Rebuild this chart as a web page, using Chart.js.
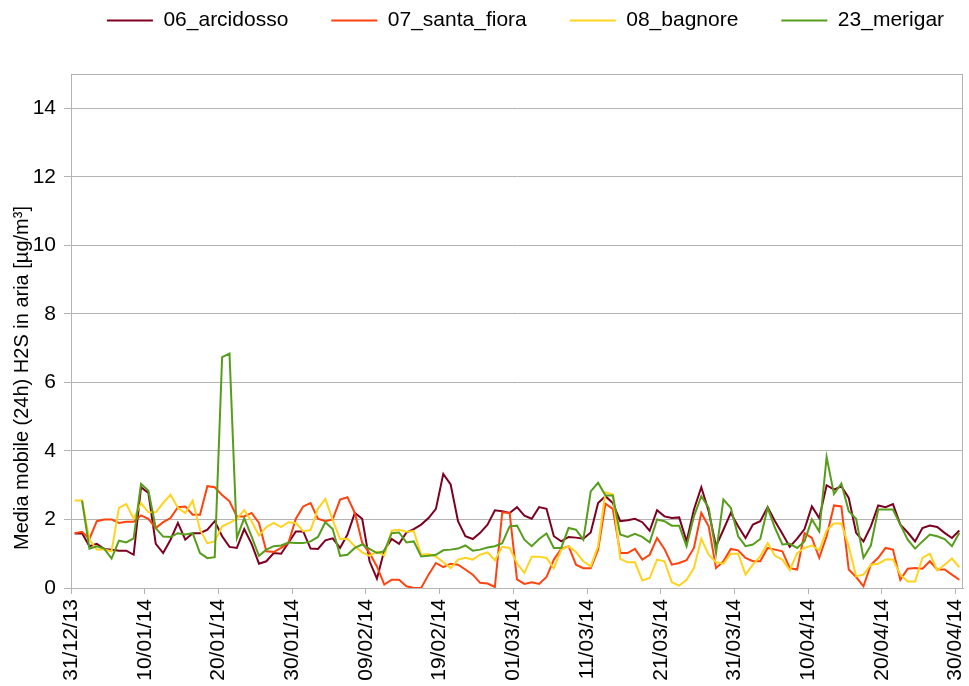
<!DOCTYPE html>
<html>
<head>
<meta charset="utf-8">
<title>Media mobile H2S</title>
<script src="https://cdn.jsdelivr.net/npm/chart.js@4.4.0/dist/chart.umd.min.js"></script>
<style>
  html, body { margin: 0; padding: 0; background: #fff; }
  #wrap { width: 969px; height: 686px; }
</style>
</head>
<body>
<div id="wrap"><canvas id="h2sChart" width="969" height="686"></canvas></div>
<script>
// Daily values from 31/12/13 to 30/04/14 (121 days)

// x tick labels, one every 10 days
const tickLabels = ['31/12/13', '10/01/14', '20/01/14', '30/01/14', '09/02/14', '19/02/14', '01/03/14',
                    '11/03/14', '21/03/14', '31/03/14', '10/04/14', '20/04/14', '30/04/14'];

const yTitleText = 'Media mobile (24h) H2S in aria [µg/m³]';

const arcidosso = [
    1.59, 1.6, 1.22, 1.29, 1.14, 1.12, 1.09, 1.09, 0.97, 2.94,
    2.77, 1.29, 1.02, 1.41, 1.9, 1.41, 1.6, 1.6, 1.7, 1.95,
    1.51, 1.2, 1.17, 1.72, 1.29, 0.71, 0.78, 1.02, 1.0, 1.32,
    1.65, 1.65, 1.15, 1.14, 1.39, 1.45, 1.17, 1.56, 2.19, 2.02,
    0.78, 0.27, 1.1, 1.43, 1.29, 1.62, 1.72, 1.85, 2.04, 2.31,
    3.33, 3.02, 1.95, 1.51, 1.43, 1.61, 1.85, 2.27, 2.24, 2.19,
    2.36, 2.11, 2.02, 2.36, 2.31, 1.51, 1.36, 1.49, 1.47, 1.44,
    1.62, 2.48, 2.68, 2.48, 1.95, 1.98, 2.02, 1.92, 1.67, 2.27,
    2.09, 2.04, 2.06, 1.36, 2.29, 2.94, 2.24, 1.22, 1.7, 2.19,
    1.8, 1.46, 1.85, 1.95, 2.36, 1.95, 1.58, 1.2, 1.44, 1.72,
    2.38, 2.04, 3.0, 2.87, 2.97, 2.63, 1.61, 1.36, 1.8, 2.41,
    2.36, 2.45, 1.85, 1.62, 1.36, 1.75, 1.82, 1.78, 1.61, 1.46,
    1.68
];

const santaFiora = [
    1.6, 1.64, 1.43, 1.95, 2.0, 2.0, 1.9, 1.93, 1.93, 2.12,
    2.02, 1.75, 1.92, 2.04, 2.36, 2.38, 2.14, 2.14, 2.97, 2.94,
    2.71, 2.53, 2.09, 2.09, 2.19, 1.9, 1.07, 1.05, 1.17, 1.32,
    2.02, 2.38, 2.48, 2.02, 1.95, 2.0, 2.58, 2.65, 2.19, 1.32,
    1.02, 0.63, 0.1, 0.24, 0.24, 0.05, 0.0, 0.0, 0.39, 0.73,
    0.61, 0.71, 0.68, 0.54, 0.39, 0.15, 0.13, 0.03, 2.21, 2.19,
    0.25, 0.12, 0.17, 0.12, 0.32, 0.83, 1.14, 1.22, 0.68, 0.58,
    0.58, 1.12, 2.46, 2.31, 1.02, 1.02, 1.14, 0.83, 0.97, 1.46,
    1.14, 0.68, 0.73, 0.81, 1.17, 2.19, 1.8, 0.58, 0.78, 1.14,
    1.1, 0.88, 0.78, 0.78, 1.17, 1.12, 1.07, 0.58, 0.54, 1.6,
    1.46, 0.88, 1.51, 2.41, 2.38, 0.54, 0.32, 0.05, 0.68, 0.88,
    1.17, 1.12, 0.24, 0.56, 0.58, 0.56, 0.78, 0.54, 0.54, 0.39,
    0.24
];

const bagnore = [
    2.55, 2.55, 1.41, 1.12, 1.12, 1.07, 2.34, 2.45, 2.02, 2.48,
    2.21, 2.21, 2.48, 2.72, 2.34, 2.19, 2.55, 1.7, 1.31, 1.36,
    1.8, 1.9, 2.02, 2.27, 1.95, 1.53, 1.78, 1.9, 1.78, 1.92,
    1.9, 1.66, 1.69, 2.31, 2.6, 1.99, 1.43, 1.44, 1.22, 1.04,
    0.94, 1.06, 0.95, 1.67, 1.7, 1.64, 1.66, 0.97, 0.99, 0.92,
    0.75, 0.58, 0.83, 0.88, 0.83, 0.97, 1.04, 0.81, 1.2, 1.17,
    0.72, 0.44, 0.91, 0.91, 0.88, 0.58, 1.12, 1.22, 1.05, 0.78,
    0.63, 1.22, 2.79, 2.73, 0.85, 0.75, 0.75, 0.22, 0.29, 0.83,
    0.78, 0.17, 0.07, 0.24, 0.58, 1.44, 0.97, 0.75, 0.71, 1.0,
    1.0, 0.39, 0.68, 0.92, 1.31, 0.94, 0.83, 0.52, 1.02, 1.17,
    1.24, 1.1, 1.68, 1.88, 1.88, 1.22, 0.34, 0.39, 0.68, 0.71,
    0.83, 0.83, 0.39, 0.19, 0.19, 0.88, 1.0, 0.51, 0.68, 0.86,
    0.6
];

// no value on the first day
const merigar = [
    null, 2.55, 1.15, 1.22, 1.15, 0.86, 1.38, 1.33, 1.45, 3.04,
    2.84, 1.75, 1.5, 1.49, 1.6, 1.56, 1.6, 1.02, 0.87, 0.9,
    6.74, 6.84, 1.46, 2.04, 1.5, 0.94, 1.12, 1.22, 1.24, 1.33,
    1.31, 1.31, 1.36, 1.49, 1.92, 1.72, 0.94, 0.97, 1.17, 1.27,
    1.14, 1.02, 1.07, 1.6, 1.62, 1.33, 1.36, 0.92, 0.94, 0.97,
    1.1, 1.12, 1.15, 1.24, 1.09, 1.12, 1.18, 1.22, 1.31, 1.8,
    1.82, 1.41, 1.22, 1.43, 1.59, 1.17, 1.17, 1.75, 1.7, 1.41,
    2.82, 3.07, 2.7, 2.7, 1.56, 1.49, 1.58, 1.49, 1.33, 2.0,
    1.95, 1.82, 1.82, 1.22, 2.09, 2.68, 2.34, 1.02, 2.58, 2.34,
    1.51, 1.22, 1.27, 1.43, 2.34, 1.75, 1.27, 1.29, 1.17, 1.36,
    2.0, 1.65, 3.82, 2.74, 3.05, 2.24, 2.02, 0.88, 1.24, 2.29,
    2.29, 2.29, 1.85, 1.41, 1.15, 1.36, 1.56, 1.51, 1.43, 1.22,
    1.61
];

const gridColor = '#b3b3b3';
const fontFamily = '"Liberation Sans", Arial, sans-serif';

Chart.defaults.font.family = fontFamily;
Chart.defaults.font.size = 21;
Chart.defaults.color = '#000';

// each day sits in the middle of its slot on the date axis
function toPoints(values) {
    return values.map((v, i) => ({ x: i + 0.5, y: v }));
}

// first dataset is drawn on top, so merigar goes first and the legend is reversed
const series = [
    { label: '23_merigar', values: merigar, color: '#579d1c' },
    { label: '08_bagnore', values: bagnore, color: '#ffd320' },
    { label: '07_santa_fiora', values: santaFiora, color: '#ff420e' },
    { label: '06_arcidosso', values: arcidosso, color: '#7e0021' }
];

// Extra room under the legend, and the legend row pushed a bit to the right
const legendSpacing = {
    id: 'legendSpacing',
    afterInit(chart) {
        const legend = chart.legend;
        if (!legend) return;
        const originalFit = legend.fit;
        legend.fit = function () {
            originalFit.call(this);
            this.height += 33;
        };
    },
    afterLayout(chart) {
        const legend = chart.legend;
        if (!legend) return;
        legend.left += 44;
        legend.right += 44;
    }
};

// Grey frame round the plot area
const plotFrame = {
    id: 'plotFrame',
    beforeDatasetsDraw(chart) {
        const { ctx, chartArea } = chart;
        ctx.save();
        ctx.strokeStyle = gridColor;
        ctx.lineWidth = 1;
        ctx.strokeRect(Math.round(chartArea.left) + 0.5, Math.round(chartArea.top) + 0.5,
            Math.round(chartArea.right - chartArea.left) - 1, Math.round(chartArea.bottom - chartArea.top));
        ctx.restore();
    }
};

// y axis title, centred a little lower than the plot
const yAxisTitle = {
    id: 'yAxisTitle',
    afterDraw(chart) {
        const ctx = chart.ctx;
        ctx.save();
        ctx.translate(22.5, 378);
        ctx.rotate(-Math.PI / 2);
        ctx.font = '20px ' + fontFamily;
        ctx.fillStyle = '#000';
        ctx.textAlign = 'center';
        ctx.textBaseline = 'middle';
        ctx.fillText(yTitleText, 0, 0);
        ctx.restore();
    }
};

const ctx = document.getElementById('h2sChart');
const h2sChart = new Chart(ctx, {
    type: 'line',
    data: {
        datasets: series.map(s => ({
            label: s.label,
            data: toPoints(s.values),
            borderColor: s.color,
            backgroundColor: s.color,
            borderWidth: 2,
            pointRadius: 0,
            pointHoverRadius: 0,
            tension: 0,
            fill: false
        }))
    },
    options: {
        responsive: false,
        animation: false,
        devicePixelRatio: 1,
        layout: {
            padding: { top: -33, right: 6, bottom: 0, left: 0 }
        },
        plugins: {
            legend: {
                position: 'top',
                reverse: true,
                labels: {
                    usePointStyle: true,
                    pointStyle: 'line',
                    pointStyleWidth: 46,
                    padding: 43,
                    color: '#000',
                    font: { size: 21 }
                }
            },
            tooltip: { enabled: false }
        },
        scales: {
            x: {
                type: 'linear',
                min: 0,
                max: 121,
                afterFit(scale) {
                    scale.height = 98;
                    scale.paddingLeft = 0;
                    scale.paddingRight = 0;
                },
                grid: {
                    drawOnChartArea: false,
                    color: gridColor,
                    tickLength: 6
                },
                border: { color: gridColor },
                ticks: {
                    stepSize: 10,
                    includeBounds: false,
                    maxTicksLimit: 20,
                    autoSkip: false,
                    minRotation: 90,
                    maxRotation: 90,
                    padding: 5,
                    callback: value => tickLabels[Math.round(value / 10)]
                }
            },
            y: {
                min: 0,
                max: 15,
                afterFit(scale) {
                    scale.width = 71;
                },
                grid: {
                    color: gridColor,
                    tickLength: 7
                },
                border: { color: gridColor },
                ticks: {
                    stepSize: 2,
                    includeBounds: false,
                    padding: 8
                }
            }
        }
    },
    plugins: [legendSpacing, plotFrame, yAxisTitle]
});
</script>
</body>
</html>
